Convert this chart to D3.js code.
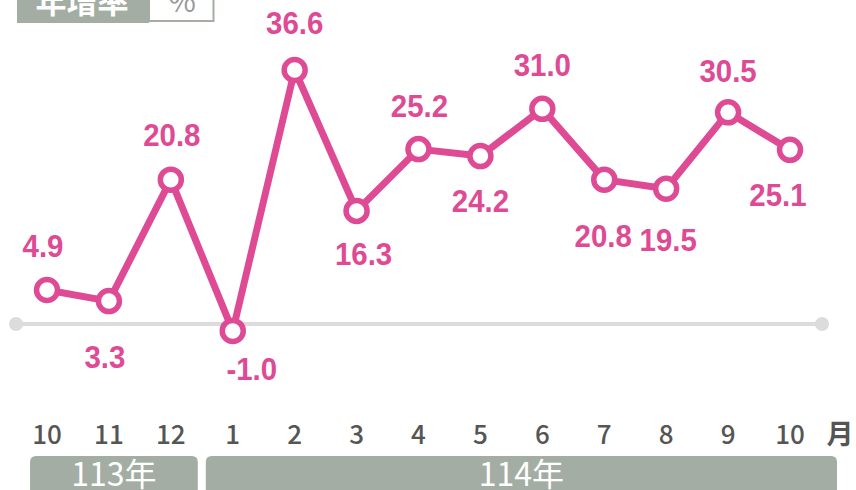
<!DOCTYPE html>
<html><head><meta charset="utf-8">
<script src="https://cdn.jsdelivr.net/npm/d3@7"></script>
<style>html,body{margin:0;padding:0;background:#fff;}svg{display:block;}</style>
</head><body>
<svg id="c" width="856" height="490"></svg>
<script>
const months = ["10","11","12","1","2","3","4","5","6","7","8","9","10"];
const values = [4.9, 3.3, 20.8, -1.0, 36.6, 16.3, 25.2, 24.2, 31.0, 20.8, 19.5, 30.5, 25.1];
const years = [{label:"113年", from:0, to:2}, {label:"114年", from:3, to:12}];
const unitTitle = "年增率";
const unitText = "%";
const monthSuffix = "月";

// label placement (layout only)
const labelDy = [-45, 55, -45, 38, -48, 43, -44, 44, -44, 56, 51, -42, 45];
const labelDx = [-4, -4, 1, 19, 0, 7, 1, 0, 0, -1, 2, 0, -12];

const svg = d3.select("#c");
const pink = "#de4a94";
const grey = "#a3ada3";
const idx = d3.range(values.length);
const x = d3.scalePoint().domain(idx).range([47, 790]);
const y = d3.scaleLinear().domain([0, 36.6]).range([324, 70]);

// unit box
svg.append("rect").attr("x",17).attr("y",-10).attr("width",132).attr("height",33).attr("fill",grey);
svg.append("rect").attr("x",149).attr("y",-10).attr("width",64.5).attr("height",31).attr("fill","#fff").attr("stroke",grey).attr("stroke-width",2);
svg.append("text").attr("x",82).attr("y",13).attr("text-anchor","middle").attr("fill","#fff")
  .style("font-family","'Noto Sans CJK TC'").style("font-size","31px").style("font-weight","bold").text(unitTitle);
svg.append("text").attr("x",182).attr("y",12).attr("text-anchor","middle").attr("fill","#999")
  .style("font-family","'Noto Sans CJK TC'").style("font-size","30px").text(unitText);

// zero line
svg.append("line").attr("x1",16).attr("x2",822).attr("y1",y(0)).attr("y2",y(0)).attr("stroke","#dcdcdc").attr("stroke-width",4);
svg.selectAll(".end").data([16,822]).enter().append("circle").attr("cx",d=>d).attr("cy",y(0)).attr("r",7).attr("fill","#dcdcdc");

// line
const line = d3.line().x((d,i)=>x(i)).y(d=>y(d));
svg.append("path").datum(values).attr("d",line).attr("fill","none").attr("stroke",pink).attr("stroke-width",7).attr("stroke-linejoin","round");
svg.selectAll(".pt").data(values).enter().append("circle").attr("cx",(d,i)=>x(i)).attr("cy",d=>y(d)).attr("r",10.5)
  .attr("fill","#fff").attr("stroke",pink).attr("stroke-width",5.5);

// value labels (slightly condensed bold sans)
svg.selectAll(".lab").data(values).enter().append("text")
  .attr("transform",(d,i)=>`translate(${x(i)+labelDx[i]},${y(d)+labelDy[i]}) scale(0.92,1)`)
  .attr("dy","0.36em")
  .attr("text-anchor","middle").attr("fill",pink)
  .style("font-family","'Liberation Sans', Arial, sans-serif").style("font-weight","bold").style("font-size","32px")
  .text(d=>d.toFixed(1));

// month labels
svg.selectAll(".m").data(months).enter().append("text")
  .attr("x",(d,i)=>x(i)).attr("y",444).attr("text-anchor","middle").attr("fill","#555")
  .style("font-family","'Noto Sans CJK TC'").style("font-size","26px").style("font-weight","500").text(d=>d);
svg.append("text").attr("x",840).attr("y",444).attr("text-anchor","middle").attr("fill","#555")
  .style("font-family","'Noto Sans CJK TC'").style("font-size","27px").style("font-weight","bold").text(monthSuffix);

// year bars
const half = (x(1)-x(0))/2;
years.forEach((yr,k)=>{
  const x0 = x(yr.from)-half + (k===0 ? 14 : 4);
  const x1 = (k===years.length-1) ? 837 : x(yr.to)+half-4;
  svg.append("path").attr("fill",grey)
    .attr("d", `M${x0},496 V462 Q${x0},456 ${x0+6},456 H${x1-6} Q${x1},456 ${x1},462 V496 Z`);
  svg.append("text").attr("x",(x0+x1)/2).attr("y",486).attr("text-anchor","middle").attr("fill","#fff")
    .style("font-family","'Noto Sans CJK TC'").style("font-size","32px").style("font-weight","400").text(yr.label);
});
</script>
</body></html>
